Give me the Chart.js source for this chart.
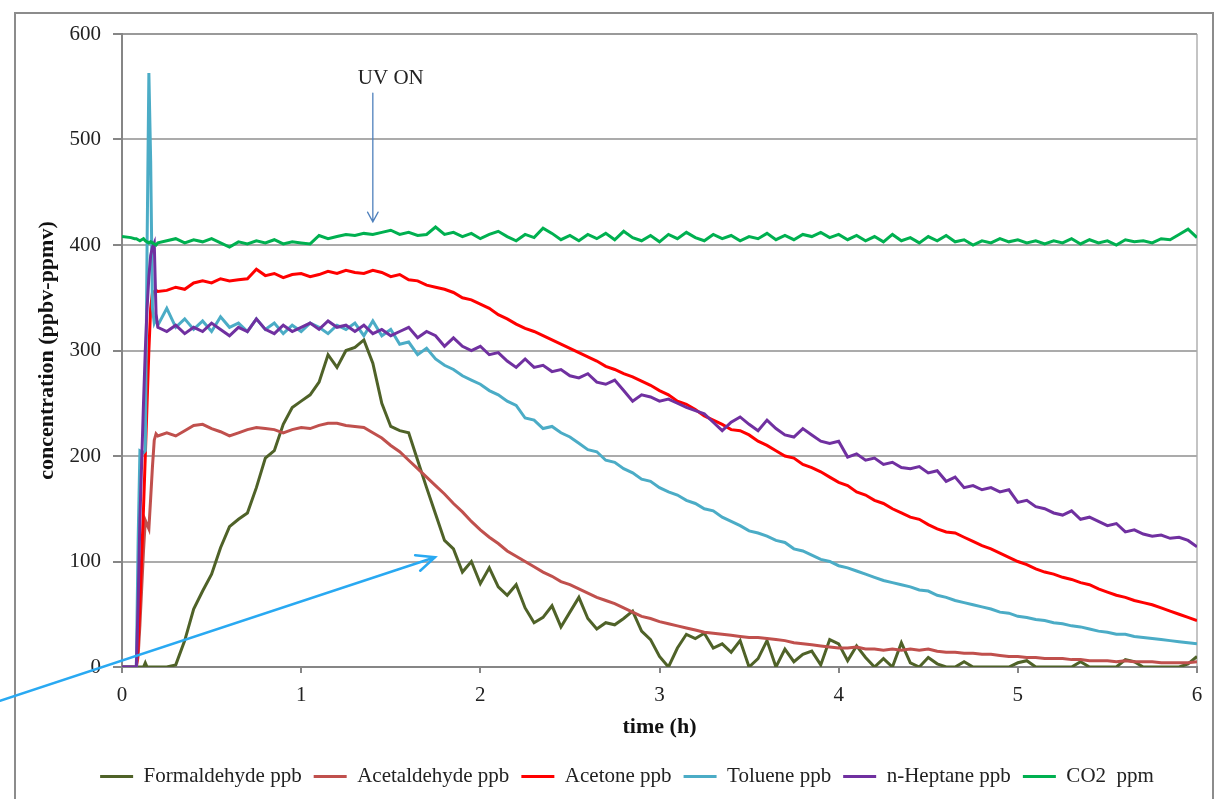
<!DOCTYPE html>
<html>
<head>
<meta charset="utf-8">
<title>concentration vs time</title>
<script src="https://cdn.jsdelivr.net/npm/chart.js@4.4.1/dist/chart.umd.min.js"></script>
<style>
html,body{margin:0;padding:0;background:#fff}
#wrap{position:relative;width:1217px;height:799px}
</style>
</head>
<body>
<div id="wrap"><canvas id="concChart"></canvas></div>
<script>
// =============================
// DATA
// =============================
const hours = [0, 0.05, 0.07, 0.08, 0.09, 0.1, 0.12, 0.13, 0.14, 0.15, 0.16, 0.17, 0.18, 0.19, 0.2,
0.25, 0.3, 0.35, 0.4, 0.45, 0.5, 0.55, 0.6, 0.65, 0.7,
0.75, 0.8, 0.85, 0.9, 0.95, 1.0, 1.05, 1.1, 1.15, 1.2,
1.25, 1.3, 1.35, 1.4, 1.45, 1.5, 1.55, 1.6, 1.65, 1.7,
1.75, 1.8, 1.85, 1.9, 1.95, 2.0, 2.05, 2.1, 2.15, 2.2,
2.25, 2.3, 2.35, 2.4, 2.45, 2.5, 2.55, 2.6, 2.65, 2.7,
2.75, 2.8, 2.85, 2.9, 2.95, 3.0, 3.05, 3.1, 3.15, 3.2,
3.25, 3.3, 3.35, 3.4, 3.45, 3.5, 3.55, 3.6, 3.65, 3.7,
3.75, 3.8, 3.85, 3.9, 3.95, 4.0, 4.05, 4.1, 4.15, 4.2,
4.25, 4.3, 4.35, 4.4, 4.45, 4.5, 4.55, 4.6, 4.65, 4.7,
4.75, 4.8, 4.85, 4.9, 4.95, 5.0, 5.05, 5.1, 5.15, 5.2,
5.25, 5.3, 5.35, 5.4, 5.45, 5.5, 5.55, 5.6, 5.65, 5.7,
5.75, 5.8, 5.85, 5.9, 5.95, 6.0]

const formaldehyde = [0, 0, 0, 0, 0, 0, 0, 4, 0, 0, 0, 0, 0, 0, 0,
0, 2, 25, 55, 72, 88, 113, 133, 140, 146,
170, 198, 205, 230, 246, 252, 258, 270, 296, 284,
300, 303, 310, 288, 250, 228, 224, 222, 196, 170,
145, 120, 112, 90, 100, 79, 94, 76, 68, 78,
56, 42, 47, 58, 38, 52, 66, 46, 36, 42,
40, 46, 53, 34, 26, 10, 0, 18, 31, 27,
32, 18, 22, 14, 25, 0, 8, 25, 0, 17,
5, 12, 15, 2, 26, 22, 6, 20, 9, 0,
8, 0, 23, 4, 0, 9, 3, 0, 0, 5,
0, 0, 0, 0, 0, 4, 6, 0, 0, 0,
0, 0, 5, 0, 0, 0, 0, 7, 5, 0,
0, 0, 0, 0, 3, 10]

const acetaldehyde = [0, 0, 0, 0, 10, 40, 110, 139, 135, 131, 160, 190, 215, 221, 219,
222, 219, 224, 229, 230, 226, 223, 219, 222, 225,
227, 226, 225, 222, 225, 227, 226, 229, 231, 231,
229, 228, 227, 222, 217, 210, 204, 196, 188, 180,
172, 164, 155, 147, 138, 130, 123, 117, 110, 105,
100, 95, 90, 86, 81, 78, 74, 70, 66, 63,
60, 56, 52, 48, 46, 43, 41, 39, 37, 35,
33, 32, 31, 30, 29, 28, 28, 27, 26, 25,
23, 22, 21, 20, 19, 18, 18, 19, 17, 17,
16, 17, 16, 17, 16, 17, 15, 14, 14, 13,
13, 12, 12, 11, 10, 10, 9, 9, 8, 8,
8, 7, 7, 6, 6, 6, 5, 6, 5, 5,
5, 4, 4, 4, 4, 5]

const acetone = [0, 0, 0, 0, 20, 60, 150, 200, 250, 300, 340, 355, 356, 357, 356,
357, 360, 358, 364, 366, 364, 368, 366, 367, 368,
377, 371, 373, 369, 372, 373, 370, 372, 375, 373,
376, 374, 373, 376, 374, 370, 372, 367, 366, 362,
360, 358, 355, 350, 348, 344, 340, 334, 330, 325,
321, 318, 314, 310, 306, 302, 298, 294, 290, 285,
282, 278, 275, 271, 267, 262, 258, 252, 249, 244,
238, 234, 230, 225, 224, 220, 214, 210, 205, 200,
198, 192, 189, 185, 180, 175, 172, 166, 163, 158,
155, 150, 146, 142, 140, 135, 131, 128, 127, 123,
119, 115, 112, 108, 104, 100, 97, 93, 90, 88,
85, 83, 80, 78, 74, 71, 68, 66, 63, 61,
59, 56, 53, 50, 47, 44]

const toluene = [0, 0, 0, 0, 120, 205, 203, 205, 400, 563, 480, 340, 326, 330, 324,
340, 322, 330, 320, 328, 318, 332, 322, 326, 318,
330, 320, 326, 316, 324, 318, 326, 322, 316, 324,
320, 326, 314, 328, 314, 320, 306, 308, 296, 302,
292, 286, 282, 276, 272, 268, 262, 258, 252, 248,
236, 234, 226, 228, 222, 218, 212, 206, 204, 196,
194, 188, 184, 178, 176, 170, 166, 163, 158, 155,
150, 148, 142, 138, 134, 129, 127, 124, 120, 118,
112, 110, 106, 102, 100, 96, 94, 91, 88, 85,
82, 80, 78, 76, 73, 72, 68, 66, 63, 61,
59, 57, 55, 52, 51, 48, 47, 45, 44, 42,
41, 39, 38, 36, 34, 33, 31, 31, 29, 28,
27, 26, 25, 24, 23, 22]

const heptane = [0, 0, 0, 0, 60, 140, 250, 300, 340, 370, 390, 398, 402, 335, 322,
318, 324, 316, 322, 318, 326, 320, 314, 322, 318,
330, 320, 316, 324, 318, 322, 326, 320, 328, 322,
324, 318, 324, 316, 320, 314, 318, 322, 312, 318,
314, 304, 312, 304, 300, 304, 296, 298, 290, 284,
292, 284, 286, 280, 282, 276, 274, 278, 270, 268,
272, 262, 252, 258, 256, 252, 254, 250, 246, 243,
240, 232, 224, 232, 237, 230, 224, 234, 226, 220,
218, 226, 220, 214, 212, 214, 199, 202, 196, 198,
192, 194, 189, 188, 190, 184, 186, 176, 180, 170,
172, 168, 170, 166, 168, 156, 158, 152, 150, 146,
144, 148, 140, 142, 138, 134, 136, 128, 130, 126,
124, 125, 122, 123, 120, 114]

const co2 = [408, 407, 406, 406, 405, 404, 406, 404, 403, 402, 403, 402, 401, 400, 402,
404, 406, 402, 405, 403, 406, 402, 398, 403, 401,
404, 402, 405, 401, 403, 402, 401, 409, 406, 408,
410, 409, 411, 410, 412, 414, 410, 412, 409, 410,
417, 410, 412, 408, 411, 406, 410, 413, 408, 404,
410, 407, 416, 411, 405, 409, 404, 410, 406, 411,
405, 413, 407, 404, 409, 403, 410, 406, 412, 407,
404, 410, 406, 409, 404, 408, 406, 411, 405, 409,
405, 410, 408, 412, 407, 410, 405, 409, 404, 408,
403, 410, 404, 407, 402, 408, 404, 409, 403, 405,
400, 404, 402, 406, 403, 405, 402, 404, 401, 404,
402, 406, 401, 405, 402, 404, 400, 405, 403, 404,
402, 406, 405, 410, 415, 407]

const seriesNames = ["Formaldehyde ppb", "Acetaldehyde ppb", "Acetone ppb", "Toluene ppb", "n-Heptane ppb", "CO2  ppm"]
const seriesColors = ["#4f6228", "#c0504d", "#ff0000", "#4bacc6", "#7030a0", "#00b050"]
const seriesValues = [formaldehyde, acetaldehyde, acetone, toluene, heptane, co2]

const xTicks = [0, 1, 2, 3, 4, 5, 6]
const yTicks = [0, 100, 200, 300, 400, 500, 600]

// annotation anchors, in data units (hours, concentration)
const uvLabel = {x: 1.5, y: 558, text: "UV ON"}
const uvArrow = {x: 1.4, yFrom: 544, yTo: 422}
const blueArrow = {x0: -0.681, y0: -32, x1: 1.747, y1: 104}

const serif = "'Liberation Serif', 'Times New Roman', serif"


// =============================
// helpers
// =============================
function drawArrow(ctx, x0, y0, x1, y1, color, width, head, spread){
let ang = Math.atan2(y1 - y0, x1 - x0)
ctx.strokeStyle = color
ctx.lineWidth = width
ctx.lineCap = "round"
ctx.beginPath()
ctx.moveTo(x0, y0)
ctx.lineTo(x1, y1)
ctx.moveTo(x1 - head * Math.cos(ang - spread), y1 - head * Math.sin(ang - spread))
ctx.lineTo(x1, y1)
ctx.lineTo(x1 - head * Math.cos(ang + spread), y1 - head * Math.sin(ang + spread))
ctx.stroke()
}

const framePlugin = {
id: "frame",
beforeDraw(chart){
let ctx = chart.ctx
ctx.save()
ctx.fillStyle = "#ffffff"
ctx.fillRect(0, 0, chart.width, chart.height)
ctx.strokeStyle = "#8c8c8c"
ctx.lineWidth = 2
ctx.strokeRect(15, 13, 1198, 820)
ctx.restore()
}
}

const notesPlugin = {
id: "notes",
afterDatasetsDraw(chart){
let ctx = chart.ctx
let xs = chart.scales.x
let ys = chart.scales.y
ctx.save()

ctx.font = "21px " + serif
ctx.fillStyle = "#222"
ctx.textAlign = "center"
ctx.textBaseline = "middle"
ctx.fillText(uvLabel.text, xs.getPixelForValue(uvLabel.x), ys.getPixelForValue(uvLabel.y))

let ux = xs.getPixelForValue(uvArrow.x)
drawArrow(ctx, ux, ys.getPixelForValue(uvArrow.yFrom), ux, ys.getPixelForValue(uvArrow.yTo), "#4f81bd", 1.3, 11, 0.5)

drawArrow(ctx,
xs.getPixelForValue(blueArrow.x0), ys.getPixelForValue(blueArrow.y0),
xs.getPixelForValue(blueArrow.x1), ys.getPixelForValue(blueArrow.y1),
"#29a9f2", 2.5, 20, 0.42)

ctx.restore()
}
}


// =============================
// CHART
// =============================
let datasets = seriesNames.map((name, i) => ({
label: name,
data: hours.map((h, k) => ({x: h, y: seriesValues[i][k]})),
borderColor: seriesColors[i],
backgroundColor: seriesColors[i],
borderWidth: 3,
pointRadius: 0,
tension: 0,
order: seriesNames.length - i
}))

const ctx = document.getElementById("concChart").getContext("2d")

new Chart(ctx, {
type: "line",
data: {datasets: datasets},
plugins: [framePlugin, notesPlugin],
options: {
responsive: true,
maintainAspectRatio: false,
animation: false,
events: [],
layout: {padding: {left: 57, right: 20, top: 34, bottom: 2}},
plugins: {
tooltip: {enabled: false},
legend: {
position: "bottom",
labels: {
usePointStyle: true,
pointStyle: "line",
pointStyleWidth: 33,
padding: 12,
color: "#222",
font: {family: serif, size: 21},
sort: (a, b) => a.datasetIndex - b.datasetIndex
}
}
},
scales: {
x: {
type: "linear",
min: 0,
max: 6,
afterBuildTicks: s => { s.ticks = xTicks.map(v => ({value: v})) },
afterFit: s => { s.height = 87 },
ticks: {color: "#222", font: {family: serif, size: 21}, padding: 10},
grid: {
color: c => c.tick && c.tick.value === 6 ? "#c4c4c4" : "rgba(0,0,0,0)",
lineWidth: 2,
tickColor: "#868686",
tickLength: 6
},
border: {color: "#868686", width: 2},
title: {display: true, text: "time (h)", color: "#111", font: {family: serif, size: 22, weight: "bold"}, padding: {top: 0, bottom: 13}}
},
y: {
min: 0,
max: 600,
afterBuildTicks: s => { s.ticks = yTicks.map(v => ({value: v})) },
afterFit: s => { s.width = 65 },
ticks: {color: "#222", font: {family: serif, size: 21}, padding: 12},
grid: {
color: c => c.tick && c.tick.value === 600 ? "#9a9a9a" : "#ababab",
lineWidth: 2,
tickColor: "#868686",
tickLength: 9
},
border: {color: "#868686", width: 2},
title: {display: true, text: "concentration (ppbv-ppmv)", color: "#111", font: {family: serif, size: 22, weight: "bold"}, padding: {top: -23, bottom: 0}}
}
}
}
})
</script>
</body>
</html>
